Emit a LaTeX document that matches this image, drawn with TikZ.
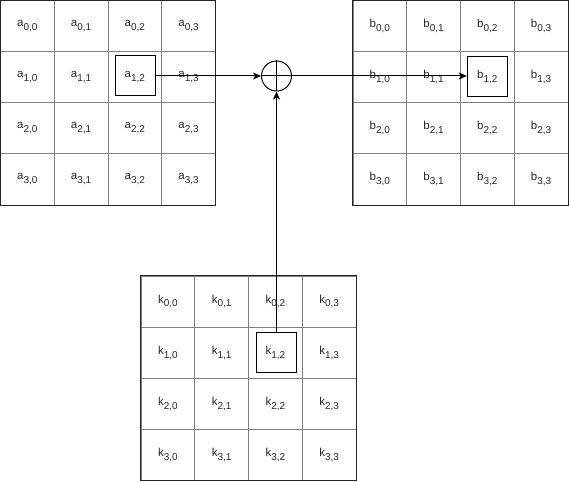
\documentclass[tikz,border=0pt]{standalone}
\usepackage{fontspec}
\setmainfont{Liberation Sans}
\usetikzlibrary{arrows.meta}
\newcommand\sbx[1]{\raisebox{-3.8pt}{\fontsize{10}{10}\selectfont #1}}
\tikzset{
  cell/.style={draw=black!50, line width=0.7pt, minimum width=53.75pt, minimum height=51.1pt, inner sep=0pt, text=black!85, font=\fontsize{11.5}{12}\selectfont},
  hl/.style={draw=black, line width=1pt, minimum width=40pt, minimum height=40pt, inner sep=0pt},
  outer/.style={draw=black!85, line width=1pt},
  conn/.style={draw=black, line width=1pt, -{Stealth[length=8pt,width=7pt,inset=2pt]}},
  xorn/.style={circle, draw=black, line width=1pt, minimum size=30pt, inner sep=0pt}
}
\begin{document}
\begin{tikzpicture}[x=1pt,y=-1pt]
\useasboundingbox (0,0) rectangle (569,481);
% grids
\foreach \g/\X/\Y in {a/0.5/0.5, b/353/0.5, k/141/276}{
  \foreach \i in {0,...,3}{
    \foreach \j in {0,...,3}{
      \node[cell] (\g-\i-\j) at (\X+\j*53.75+26.875, \Y+\i*51.1+25.55) {\g\sbx{\i,\j}};
    }
  }
  \draw[outer] (\g-0-0.north west) rectangle (\g-3-3.south east);
}
% highlight boxes
\node[hl] (abox) at (135.3,75.8) {};
\node[hl] (bbox) at (487.3,76.5) {};
\node[hl] (kbox) at (276.5,352) {};
% xor
\node[xorn] (xor) at (276.5,76) {};
\draw[line width=1pt] (xor.north) -- (xor.south) (xor.west) -- (xor.east);
% connectors
\draw[conn] (abox.east |- xor.west) -- (xor.west);
\draw[conn] (xor.east) -- (bbox.west |- xor.east);
\draw[conn] (kbox.north) -- (xor.south);
\end{tikzpicture}
\end{document}
